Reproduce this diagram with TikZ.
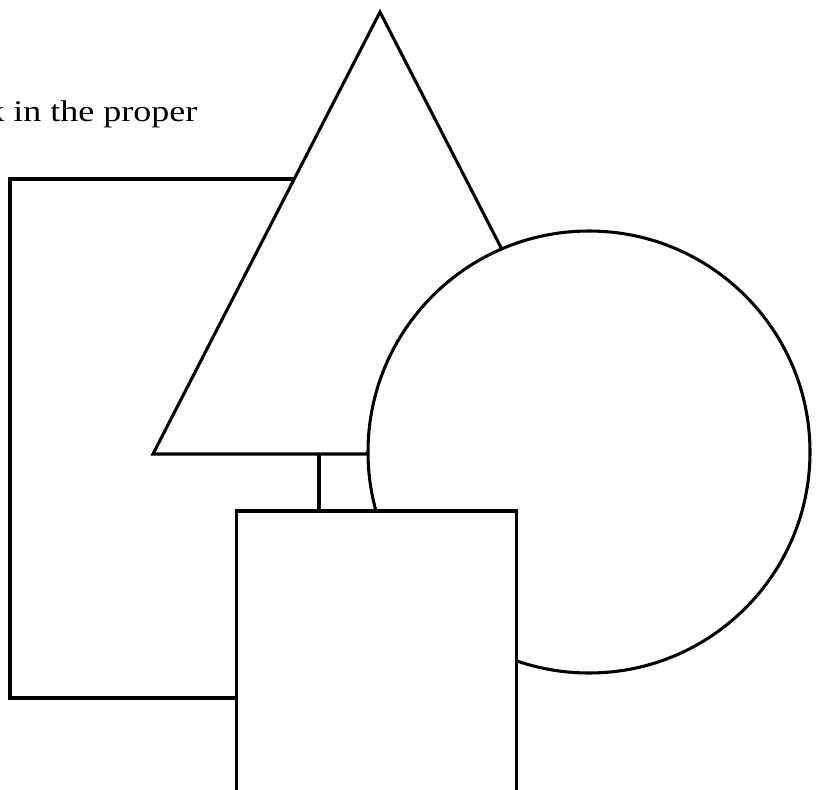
\documentclass[tikz,border=0pt]{standalone}
\usepackage{fontspec}
\setmainfont{Liberation Serif}
\begin{document}
\begin{tikzpicture}[x=0.75pt,y=-0.75pt,
  figshape/.style={draw=black,fill=white,line width=2.3pt,line join=miter},
  lbl/.style={font=\fontsize{22.5}{26}\selectfont,inner sep=0pt,anchor=base east}]
\useasboundingbox (0,0) rectangle (821,789);
\begin{scope}
\clip (0,0) rectangle (821,789);
% large rectangle (back)
\draw[figshape] (10,179) rectangle (319,698);
% triangle
\draw[figshape] (380,12) -- (153,454) -- (607,454) -- cycle;
% circle
\draw[figshape] (589,452) circle[radius=221];
% bottom rectangle (front)
\draw[figshape] (236.5,511) rectangle (516.5,860);
% text
\node[lbl] (txt) at (197.5,121.7) {\scalebox{1.2}[1]{k in the proper}};
\end{scope}
\end{tikzpicture}
\end{document}
